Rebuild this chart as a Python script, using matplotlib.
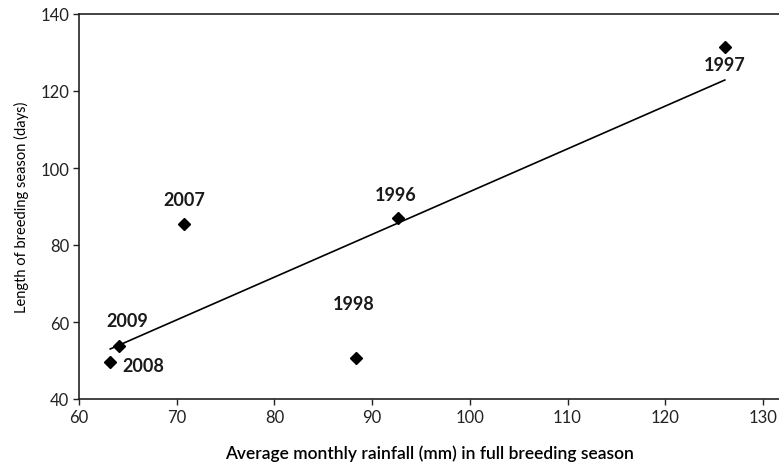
import matplotlib
matplotlib.use("Agg")
import matplotlib.pyplot as plt
import numpy as np

years = ["1996", "1997", "1998", "2007", "2008", "2009"]
rainfall = [92.6, 126.1, 88.35, 70.75, 63.2, 64.1]
season_length = [86.9, 131.5, 50.6, 85.5, 49.6, 53.7]
x_ticks = [60, 70, 80, 90, 100, 110, 120, 130]
y_ticks = [40, 60, 80, 100, 120, 140]
# label offsets in pixels (dx, dy)
label_offsets = {"1996": (-2, 24), "1997": (0, -18), "1998": (-2, 55),
                 "2007": (0, 24), "2008": (33, -3), "2009": (8, 26)}

plt.rcParams['font.family'] = ['Lato', 'DejaVu Sans']

fig = plt.figure(figsize=(7.79, 4.64), dpi=100)
ax = fig.add_axes([79/779, 64/464, 700/779, 385/464])

x = np.array(rainfall)
y = np.array(season_length)
slope, intercept = np.polyfit(x, y, 1)
xl = np.array([x.min(), x.max()])
ax.plot(xl, slope * xl + intercept, color='black', lw=1.2, zorder=2)

ax.plot(x, y, 'D', color='black', markersize=6, zorder=3)

for yr, xi, yi in zip(years, rainfall, season_length):
    dx, dy = label_offsets[yr]
    ax.annotate(yr, (xi, yi), xytext=(dx, dy), textcoords='offset pixels',
                ha='center', va='center', fontsize=13, fontweight='bold',
                color='#1a1a1a')

ax.set_xlim(60, 60 + 700 / 9.77)
ax.set_ylim(40, 140)
ax.set_xticks(x_ticks)
ax.set_yticks(y_ticks)
ax.tick_params(direction='out', length=4, width=1, labelsize=12,
               colors='#222222', pad=3)
for s in ['left', 'bottom', 'top']:
    ax.spines[s].set_linewidth(1.2)
    ax.spines[s].set_color('#222222')
ax.spines['right'].set_visible(False)

ax.set_xlabel("Average monthly rainfall (mm) in full breeding season",
              fontsize=12.5, fontweight='semibold', labelpad=14)
ax.set_ylabel("Length of breeding season (days)", fontsize=10.5, labelpad=8)

fig.savefig("out.png", dpi=100)
